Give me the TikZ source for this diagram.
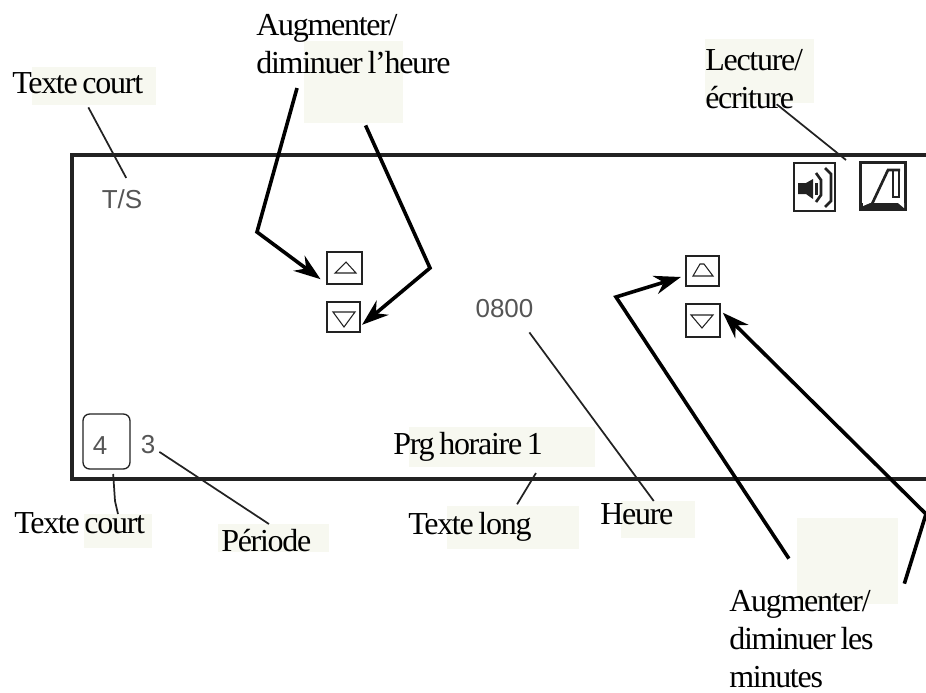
\documentclass[tikz,border=0pt]{standalone}
\usepackage{fontspec}
\setmainfont[LetterSpace=-4,WordSpace=0.7]{Liberation Serif}
\newfontfamily\panelfont{Liberation Sans}
\usetikzlibrary{arrows.meta}
\definecolor{hlcolor}{HTML}{F7F8F0}
\definecolor{inkcolor}{HTML}{222222}
\definecolor{readoutcolor}{HTML}{555555}
\tikzset{
    hlbox/.style={fill=hlcolor, draw=none, inner sep=0pt, outer sep=0pt},
    lbl/.style={anchor=north west, inner sep=0pt, align=left, font=\fontsize{24}{28.5}\selectfont},
    readout/.style={inner sep=0pt, text=readoutcolor, font=\panelfont\fontsize{19.5}{22}\selectfont},
    btn/.style={draw=inkcolor, line width=1pt, inner sep=0pt, outer sep=0pt},
    glyph/.style={draw=inkcolor, line width=0.8pt, line join=miter},
    panel/.style={draw=inkcolor, line width=2.8pt},
    leader/.style={draw=inkcolor, line width=1.3pt},
    pointer/.style={draw=black, line width=2.7pt, -{Stealth[length=20pt,width=14pt]}}
}
\begin{document}
\begin{tikzpicture}[x=0.75pt, y=-0.75pt]
    \useasboundingbox (0, 0) rectangle (926, 693);

    % Label backgrounds
    \node [hlbox, minimum width=93pt, minimum height=28.5pt] (hlShortTop) at (94, 86) {};
    \node [hlbox, minimum width=74.25pt, minimum height=61.5pt] (hlHour) at (353.5, 82) {};
    \node [hlbox, minimum width=81.75pt, minimum height=48pt] (hlRW) at (759.5, 71) {};
    \node [hlbox, minimum width=139.5pt, minimum height=30pt] (hlPrg) at (502, 447) {};
    \node [hlbox, minimum width=99pt, minimum height=32.25pt] (hlLong) at (513, 527.5) {};
    \node [hlbox, minimum width=55.5pt, minimum height=27.75pt] (hlHeure) at (658, 519.5) {};
    \node [hlbox, minimum width=83.25pt, minimum height=21pt] (hlPeriode) at (273.5, 538) {};
    \node [hlbox, minimum width=51pt, minimum height=25.5pt] (hlShortBot) at (118, 531) {};
    \node [hlbox, minimum width=75.75pt, minimum height=64.5pt] (hlMin) at (847.5, 561) {};

    % Labels
    \node [lbl] (lblShortTop) at (12, 72) {Texte court};
    \node [lbl] (lblHour) at (256, 14) {Augmenter/\\diminuer l’heure};
    \node [lbl] (lblRW) at (705, 49) {Lecture/\\écriture};
    \node [lbl] (lblPrg) at (393, 432) {Prg horaire 1};
    \node [lbl] (lblLong) at (408, 512) {Texte long};
    \node [lbl] (lblHeure) at (600, 503) {Heure};
    \node [lbl] (lblPeriode) at (221, 529) {Période};
    \node [lbl] (lblShortBot) at (14, 512) {Texte court};
    \node [lbl] (lblMin) at (729, 590) {Augmenter/\\diminuer les\\minutes};

    % Panel, open on the right
    \draw [panel] (926, 155) -- (72, 155) -- (72, 479) -- (926, 479);

    % Readouts
    \node [readout] (txtTS) at (122, 199.5) {T/S};
    \node [readout] (txtTime) at (504.5, 309) {0800};
    \node [readout] (txtFour) at (100, 445.5) {4};
    \node [readout] (txtThree) at (148, 445) {3};
    \node [btn, rounded corners=5pt, minimum width=35.25pt, minimum height=41.25pt] (boxFour) at (106.5, 441.5) {};

    % Up/down buttons
    \node [btn, minimum width=26.25pt, minimum height=24pt] (btnHourUp) at (344.5, 268) {};
    \node [btn, minimum width=24.75pt, minimum height=22.5pt] (btnHourDown) at (343.5, 317) {};
    \node [btn, minimum width=24.75pt, minimum height=22.5pt] (btnMinUp) at (702.5, 271) {};
    \node [btn, minimum width=25.5pt, minimum height=24.75pt] (btnMinDown) at (703, 320.5) {};
    \draw [glyph] (335, 273) -- (346, 262) -- (356, 273) -- cycle;
    \draw [glyph] (333, 312) -- (355, 312) -- (344, 327) -- cycle;
    \draw [glyph] (693, 276) -- (700, 264) -- (704, 264) -- (713, 276) -- cycle;
    \draw [glyph] (691, 315) -- (713, 315) -- (702, 328) -- cycle;

    % Speaker icon
    \node [btn, minimum width=30.75pt, minimum height=36pt] (iconSpeaker) at (814.5, 187) {};
    \fill [inkcolor] (798, 183) -- (806, 183) -- (813, 179) -- (813, 199) -- (806, 194) -- (798, 194) -- cycle;
    \draw [inkcolor, line width=2pt] (816, 173) -- (821, 180) -- (821, 195) -- (816, 202);
    \draw [inkcolor, line width=2pt] (825, 168) -- (831, 174) -- (831, 201) -- (825, 207);
    \fill [inkcolor] (815, 183) rectangle (818, 195);

    % Metronome icon
    \node [draw=inkcolor, line width=2.4pt, inner sep=0pt, outer sep=0pt, minimum width=34pt, minimum height=35pt] (iconMetro) at (883, 186) {};
    \fill [inkcolor] (859, 203) -- (907, 203) -- (907, 211) -- (859, 211) -- cycle;
    \fill [white] (863, 198) -- (870, 203) -- (863, 206) -- cycle;
    \fill [white] (898, 203) -- (904, 203) -- (904, 208) -- cycle;
    \draw [inkcolor, line width=2pt] (872, 204) -- (888, 170) -- (900, 170);
    \draw [inkcolor, line width=1.6pt] (893, 170) -- (893, 197) -- (899, 197) -- (899, 170);

    % Bends of the pointers
    \coordinate (bendHourUp) at (257, 232);
    \coordinate (bendHourDown) at (430, 268);
    \coordinate (bendMinUp) at (616, 297);
    \coordinate (bendMinDown) at (926, 514);
    \coordinate (kinkShort) at (115, 501);
    \coordinate (endRW) at (846, 160);

    % Pointers
    \draw [pointer, shorten <=19.5pt, shorten >=6pt] (hlHour.159) -- (bendHourUp) -- (btnHourUp.south west);
    \draw [pointer, shorten <=2pt, shorten >=2pt] (hlHour.-75) -- (bendHourDown) -- (btnHourDown.-30);
    \draw [pointer, shorten <=11pt, shorten >=4pt] (hlMin.191) -- (bendMinUp) -- (btnMinUp.195);
    \draw [pointer, shorten <=16pt, shorten >=3pt] (hlMin.south east) -- (bendMinDown) -- (btnMinDown.32);

    % Leaders
    \draw [leader, shorten <=2pt, shorten >=10pt] (hlShortTop.-110) -- (txtTS.43);
    \draw [leader, shorten <=1.5pt] (hlRW.-64) -- (endRW);
    \draw [leader, shorten >=13pt] (hlHeure.103) -- (txtTime.-33);
    \draw [leader, shorten >=3.5pt] (hlPeriode.108) -- (txtThree.-30);
    \draw [leader, shorten >=3.75pt] (hlShortBot.north) -- (kinkShort) -- (boxFour.-77);
    \draw [leader, shorten <=5.3pt, shorten >=1.5pt] (hlPrg.-28) -- (hlLong.82);
\end{tikzpicture}
\end{document}
